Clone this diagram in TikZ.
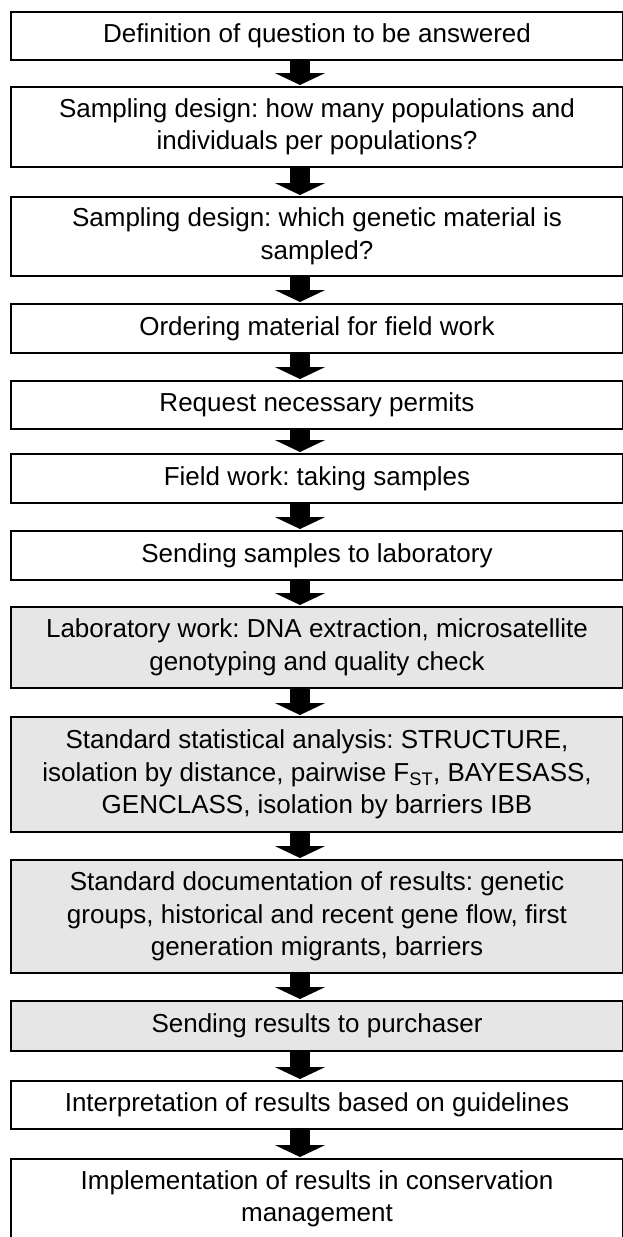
\documentclass[tikz,border=0pt]{standalone}
\usepackage{fontspec}
\setmainfont{Liberation Sans}
\usetikzlibrary{arrows.meta}
\definecolor{labgray}{RGB}{230,230,230}
\frenchspacing
\begin{document}
\begin{tikzpicture}[
    x = 1pt,
    y = -1pt,
    stage/.style = {rectangle, draw=black, line width=2pt, fill=white,
              minimum width=612pt, inner sep=0pt, align=center,
              font=\fontsize{26}{32.5}\selectfont},
    labstage/.style = {stage, fill=labgray},
    flow/.style = {line width=20pt, -{Triangle[width=50pt,length=12pt]}},
    ]

\useasboundingbox (0,0) rectangle (622,1237);

\node[stage, minimum height=48pt] (definition) at (317,36) {Definition of question to be answered};
\node[stage, minimum height=80pt] (design_pop) at (317,127) {Sampling design: how many populations and\\individuals per populations?};
\node[stage, minimum height=79pt] (design_mat) at (317,236.5) {Sampling design: which genetic material is\\sampled?};
\node[stage, minimum height=49pt] (ordering) at (317,328.5) {Ordering material for field work};
\node[stage, minimum height=48pt] (permits) at (317,405) {Request necessary permits};
\node[stage, minimum height=49pt] (fieldwork) at (317,478.5) {Field work: taking samples};
\node[stage, minimum height=49pt] (send_lab) at (317,555.5) {Sending samples to laboratory};
\node[labstage, minimum height=81pt] (labwork) at (317,647.5) {Laboratory work: DNA extraction, microsatellite\\genotyping and quality check};
\node[labstage, minimum height=115pt] (statistics) at (317,774.5) {Standard statistical analysis: STRUCTURE,\\isolation by distance, pairwise F\textsubscript{ST}, BAYESASS,\\GENCLASS, isolation by barriers IBB};
\node[labstage, minimum height=113pt] (documentation) at (317,916.5) {Standard documentation of results: genetic\\groups, historical and recent gene flow, first\\generation migrants, barriers};
\node[labstage, minimum height=50pt] (send_res) at (317,1026) {Sending results to purchaser};
\node[stage, minimum height=48pt] (interpret) at (317,1105) {Interpretation of results based on guidelines};
\node[stage, minimum height=80pt] (implement) at (317,1199) {Implementation of results in conservation\\management};

% block arrows between the steps
\foreach \from/\to in {definition/design_pop, design_pop/design_mat,
    design_mat/ordering, ordering/permits, permits/fieldwork,
    fieldwork/send_lab, send_lab/labwork, labwork/statistics,
    statistics/documentation, documentation/send_res,
    send_res/interpret, interpret/implement}
  \draw [flow] ([xshift=-17pt]\from.south) -- ([xshift=-17pt,yshift=1pt]\to.north);

\end{tikzpicture}
\end{document}
